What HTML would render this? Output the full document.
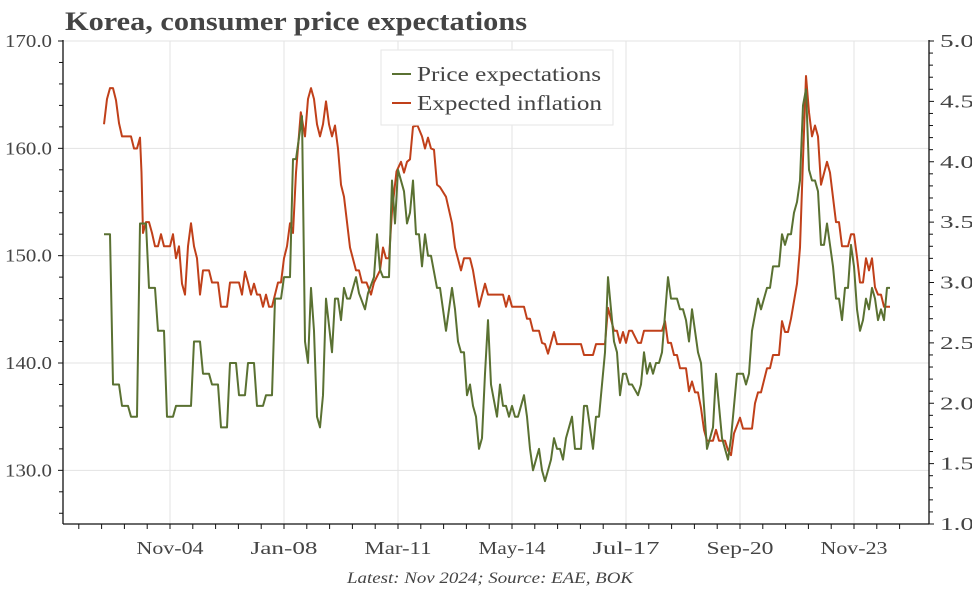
<!DOCTYPE html>
<html><head><meta charset="utf-8">
<style>
body{margin:0;background:#fff;}
svg text{font-family:"Liberation Serif",serif;fill:#444;}
</style></head>
<body>
<svg id="chart" width="972" height="589" viewBox="0 0 972 589">
<text x="65" y="30" font-size="26" font-weight="bold" textLength="462" lengthAdjust="spacingAndGlyphs">Korea, consumer price expectations</text>
<g id="grid"></g>
<g id="axes"></g>
<g id="series"></g>
<g>
<rect x="381" y="50" width="232" height="75" fill="#fff" stroke="#e6e6e6"/>
<line x1="392" y1="74" x2="411" y2="74" stroke="#5a7132" stroke-width="2"/>
<text x="417" y="81" font-size="21" textLength="184" lengthAdjust="spacingAndGlyphs">Price expectations</text>
<line x1="392" y1="103" x2="411" y2="103" stroke="#c0401a" stroke-width="2"/>
<text x="417" y="110" font-size="21" textLength="185" lengthAdjust="spacingAndGlyphs">Expected inflation</text>
</g>
<text x="490" y="583" font-size="16" font-style="italic" text-anchor="middle" textLength="286" lengthAdjust="spacingAndGlyphs">Latest: Nov 2024; Source: EAE, BOK</text>
</svg>
<script>
// months since Jan 2003
const priceMonths=[0,2,3,5,6,8,9,11,12,14,15,17,18,20,21,23,24,29,30,32,33,35,36,38,39,41,42,44,45,47,48,50,51,53,54,56,57,59,60,62,63,64,66,67,68,69,70,71,72,73,74,76,77,78,79,80,81,82,84,85,87,88,90,91,92,93,95,96,97,98,100,101,102,103,104,105,106,107,108,109,111,112,114,116,117,118,119,120,121,122,123,124,125,126,127,128,129,131,132,133,134,135,136,137,138,140,141,142,143,145,146,147,149,150,151,152,153,154,156,157,159,160,161,163,164,165,166,167,168,170,171,172,173,174,175,176,178,179,180,181,182,183,184,185,186,188,189,191,192,193,194,195,196,198,199,200,201,203,204,205,206,208,209,211,213,214,215,216,218,219,221,222,223,225,226,227,228,229,230,231,232,233,234,235,236,237,238,239,240,241,243,244,245,246,247,248,249,250,251,252,253,254,255,256,257,258,259,260,261,262];
const priceValues=[152,152,138,138,136,136,135,135,153,153,147,147,143,143,135,135,136,136,142,142,139,139,138,138,134,134,140,140,137,137,140,140,136,136,137,137,146,146,148,148,159,159,163,142,140,147,143,135,134,137,146,141,146,146,144,147,146,146,148,146.5,145,146.5,148,152,148.7,148,148,157,153,158,156,153,154,157,152,152,149,152,150,150,147,147,143,147,145,142,141,141,137,138,136,135,132,133,139,144,138,135,138,136,136,135,136,135,135,137,135,132,130,132,130,129,131,133,132,132,131,133,135,132,132,136,136,132,135,135,138,141,148,142,141,137,139,139,138,138,137,138,141,139,140,139,140,140,141,148,146,146,145,145,144,142,145,141,140,136,132,134,139,136,133,131,133,139,139,138,139,143,146,145,147,147,149,149,152,151,152,152,154,155,157,164,165.5,158,157,157,156,151,151,153,149,146,146,144,147,147,151,149,145,143,144,146,145,147,146,144,145,144,147,147];
const inflMonths=[0,1,2,3,4,5,6,9,10,11,12,12.5,13,14,15,16,17,18,19,20,22,23,24,25,26,27,28,29,30,31,32,33,35,36,38,39,41,42,45,46,47,48,49,50,51,52,53,54,55,56,57,58,59,60,61,62,63,64,65.6,67,68,69,70,71,72,73,74,75,76,77,78,79,80,82,84,85,86,87.5,89,90,92,93,94,95,96,97.5,99,100,101,102,103,104.5,106,107,108,109,110,111,112,114,116,117,119,120,122,123,125,127,128,133,134,135,136,140,141,142,143,145,146,147,148,150,151,159,160,163,164,167,168,170,171,172,173,174,175,176,178,179,180,186,187,188,189,190,191,192,194,195,196,197,198,199,200,201,203,204,205,207,208,209,210,212,213,216,217,218,219,221,222,223,225,226,227,228,229,231,232,233,234,235,236,237,238,239,241,242,244,245,246,248,249,250,251,252,253,254,255,256,257,258,259,260,262];
const inflValues=[4.31,4.52,4.61,4.61,4.51,4.32,4.21,4.21,4.11,4.11,4.2,3.91,3.41,3.5,3.5,3.41,3.3,3.3,3.4,3.3,3.3,3.4,3.2,3.3,2.99,2.9,3.3,3.49,3.3,3.2,2.9,3.1,3.1,3.0,3.0,2.8,2.8,3.0,3.0,2.9,3.09,3.0,2.9,2.99,2.9,2.9,2.8,2.9,2.8,2.8,2.9,3.0,3.0,3.2,3.3,3.49,3.41,3.91,4.41,4.21,4.52,4.61,4.52,4.31,4.21,4.31,4.5,4.31,4.21,4.3,4.11,3.81,3.71,3.29,3.1,3.1,3.0,3.0,2.9,3.0,3.1,3.29,3.2,3.2,3.59,3.92,4.0,3.91,4.0,4.02,4.29,4.3,4.21,4.11,4.2,4.11,4.1,3.81,3.79,3.71,3.49,3.29,3.1,3.2,3.2,3.1,2.8,2.99,2.9,2.9,2.8,2.89,2.8,2.8,2.7,2.7,2.6,2.6,2.5,2.49,2.41,2.59,2.49,2.49,2.4,2.4,2.49,2.49,2.79,2.6,2.6,2.5,2.59,2.5,2.6,2.6,2.5,2.5,2.6,2.6,2.68,2.5,2.5,2.4,2.4,2.29,2.29,2.1,2.18,2.09,2.09,1.96,1.78,1.69,1.69,1.78,1.69,1.69,1.61,1.57,1.75,1.88,1.79,1.79,2.0,2.09,2.09,2.29,2.29,2.4,2.4,2.68,2.59,2.59,2.7,2.99,3.29,4.02,4.71,4.41,4.21,4.3,4.21,3.81,4.0,3.91,3.5,3.5,3.3,3.3,3.4,3.4,3.21,3.0,3.0,3.2,3.1,3.2,2.96,2.9,2.9,2.8,2.8];
const xTickLabels=["Nov-04","Jan-08","Mar-11","May-14","Jul-17","Sep-20","Nov-23"];
const xTickMonths=[22,60,98,136,174,212,250];
const leftTicks=[130,140,150,160,170];
const rightTicks=[1.0,1.5,2.0,2.5,3.0,3.5,4.0,4.5,5.0];

const NS="http://www.w3.org/2000/svg";
const L=63,R=929,T=41,B=524;
const xS=m=>104+m*3;
const yL=v=>B-(v-125)*(B-T)/45;
const yR=v=>B-(v-1)*(B-T)/4;
function mk(tag,attrs,parent){const e=document.createElementNS(NS,tag);for(const k in attrs)e.setAttribute(k,attrs[k]);parent.appendChild(e);return e;}
const grid=document.getElementById('grid'),axes=document.getElementById('axes'),series=document.getElementById('series');
mk('line',{x1:L,y1:T,x2:R,y2:T,stroke:'#e3e3e3'},grid);
leftTicks.forEach(v=>{
  const g=mk('line',{x1:L,y1:yL(v),x2:R,y2:yL(v),stroke:'#e3e3e3'},grid);
  
  
  const t=mk('text',{x:L-11,y:yL(v)+6,'font-size':18,'text-anchor':'end',textLength:47,lengthAdjust:'spacingAndGlyphs'},axes);
  t.textContent=v.toFixed(1);
  
  
});
xTickMonths.forEach((m,i)=>{
  const g=mk('line',{x1:xS(m),y1:T,x2:xS(m),y2:B,stroke:'#e3e3e3'},grid);
  
  
  const t=mk('text',{x:xS(m),y:B+30,'font-size':18,'text-anchor':'middle',textLength:67,lengthAdjust:'spacingAndGlyphs'},axes);
  t.textContent=xTickLabels[i];
  
  
});
rightTicks.forEach(v=>{
  const t=mk('text',{x:R+11,y:yR(v)+6,'font-size':18,textLength:34,lengthAdjust:'spacingAndGlyphs'},axes);
  t.textContent=v.toFixed(1);
  
  
});
mk('line',{x1:L,y1:T-1,x2:L,y2:B,stroke:'#111','stroke-width':1.3},axes);
mk('line',{x1:R,y1:T-1,x2:R,y2:B,stroke:'#111','stroke-width':1.3},axes);
mk('line',{x1:L,y1:B,x2:R,y2:B,stroke:'#111','stroke-width':1.3},axes);
for(let v=126;v<=170;v+=2){mk('line',{x1:L-(v%10==0?5:4),y1:yL(v),x2:L,y2:yL(v),stroke:'#111'},axes);}
for(let k=10;k<=50;k++){mk('line',{x1:R,y1:yR(k/10),x2:R+(k%5==0?5:4),y2:yR(k/10),stroke:'#111'},axes);}
for(let m=22-38;m<=262+10;m+=7.6){const x=xS(m);if(x>L&&x<R)mk('line',{x1:x,y1:B,x2:x,y2:B+5,stroke:'#111'},axes);}
function line(ms,vs,yf,color,name){
  const d=ms.map((m,i)=>(i?'L':'M')+xS(m).toFixed(1)+','+yf(vs[i]).toFixed(1)).join('');
  const p=mk('path',{d:d,fill:'none',stroke:color,'stroke-width':2,'stroke-linejoin':'round'},series);
  
  
}
line(inflMonths,inflValues,yR,'#c0401a','expected-inflation-line');
line(priceMonths,priceValues,yL,'#5a7132','price-expectations-line');
</script>
</body></html>
